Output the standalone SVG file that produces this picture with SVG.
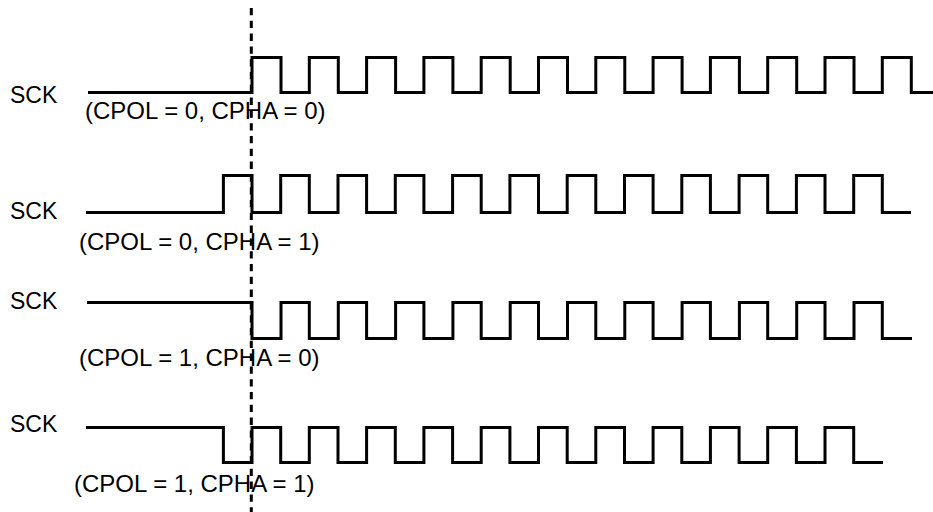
<svg xmlns="http://www.w3.org/2000/svg" width="933" height="512" viewBox="0 0 933 512">
<style>
.wave{fill:none;stroke:#000;stroke-width:3;stroke-linejoin:miter;stroke-linecap:butt}
.sig{font-family:"Liberation Sans",Arial,sans-serif;font-size:23px;fill:#000}
.mode{font-family:"Liberation Sans",Arial,sans-serif;font-size:24px;fill:#000}
.marker{fill:none;stroke:#000;stroke-width:3;stroke-dasharray:7.3 5.5}
</style>
<rect width="933" height="512" fill="#fff"/>
<g id="row1">
<text class="sig" x="10" y="103">SCK</text>
<path class="wave" d="M88 92.5 H252 V57.5 H281 V92.5 H309.3 V57.5 H338.3 V92.5 H366.6 V57.5 H395.6 V92.5 H423.9 V57.5 H452.9 V92.5 H481.2 V57.5 H510.2 V92.5 H538.5 V57.5 H567.5 V92.5 H595.8 V57.5 H624.8 V92.5 H653.1 V57.5 H682.1 V92.5 H710.4 V57.5 H739.4 V92.5 H767.7 V57.5 H796.7 V92.5 H825 V57.5 H854 V92.5 H882.3 V57.5 H911.3 V92.5 H933"/>
<text class="mode" x="85" y="118.5">(CPOL = 0, CPHA = 0)</text>
</g>
<g id="row2">
<text class="sig" x="10" y="219.3">SCK</text>
<path class="wave" d="M86 212.5 H223.4 V175.5 H252 V212.5 H280.7 V175.5 H309.3 V212.5 H338 V175.5 H366.6 V212.5 H395.3 V175.5 H423.9 V212.5 H452.6 V175.5 H481.2 V212.5 H509.9 V175.5 H538.5 V212.5 H567.2 V175.5 H595.8 V212.5 H624.5 V175.5 H653.1 V212.5 H681.8 V175.5 H710.4 V212.5 H739.1 V175.5 H767.7 V212.5 H796.4 V175.5 H825 V212.5 H853.7 V175.5 H882.3 V212.5 H911"/>
<text class="mode" x="79" y="250">(CPOL = 0, CPHA = 1)</text>
</g>
<g id="row3">
<text class="sig" x="10" y="309.3">SCK</text>
<path class="wave" d="M87 302.5 H252 V338.5 H281 V302.5 H309.3 V338.5 H338.3 V302.5 H366.6 V338.5 H395.6 V302.5 H423.9 V338.5 H452.9 V302.5 H481.2 V338.5 H510.2 V302.5 H538.5 V338.5 H567.5 V302.5 H595.8 V338.5 H624.8 V302.5 H653.1 V338.5 H682.1 V302.5 H710.4 V338.5 H739.4 V302.5 H767.7 V338.5 H796.7 V302.5 H825 V338.5 H854 V302.5 H882.3 V338.5 H912"/>
<text class="mode" x="79" y="366">(CPOL = 1, CPHA = 0)</text>
</g>
<g id="row4">
<text class="sig" x="10" y="432">SCK</text>
<path class="wave" d="M86 427.5 H223.4 V462.5 H252 V427.5 H280.7 V462.5 H309.3 V427.5 H338 V462.5 H366.6 V427.5 H395.3 V462.5 H423.9 V427.5 H452.6 V462.5 H481.2 V427.5 H509.9 V462.5 H538.5 V427.5 H567.2 V462.5 H595.8 V427.5 H624.5 V462.5 H653.1 V427.5 H681.8 V462.5 H710.4 V427.5 H739.1 V462.5 H767.7 V427.5 H796.4 V462.5 H825 V427.5 H853.7 V462.5 H883"/>
<text class="mode" x="74" y="491.7">(CPOL = 1, CPHA = 1)</text>
</g>
<g id="connectors">
<line class="marker" x1="251.3" y1="8" x2="251.3" y2="512"/>
</g>
</svg>
